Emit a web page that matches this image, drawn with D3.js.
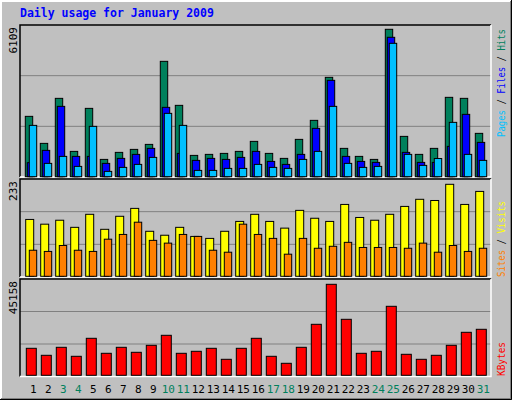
<!DOCTYPE html>
<html>
<head>
<meta charset="utf-8">
<script src="https://cdn.jsdelivr.net/npm/d3@7"></script>
<style>
  body { margin: 0; background: #fff; }
  text { font-family: "DejaVu Sans Mono", monospace; }
</style>
</head>
<body>
<div id="chart"></div>
<script>
var days = d3.range(1, 32);
var weekend = [3, 4, 10, 11, 17, 18, 24, 25, 31];

var hits = [2501, 1381, 3247, 1049, 2832, 717, 1008, 1132, 1339, 4781, 2957, 883, 925, 966, 1049, 1464,
            966, 759, 1547, 2335, 4118, 1174, 842, 717, 6109, 1671, 925, 1174, 3289, 3247, 1796];
var files = [581, 1091, 2915, 842, 842, 552, 759, 925, 1174, 2874, 966, 676, 759, 717, 800, 1049,
             634, 510, 925, 2003, 3994, 842, 634, 593, 5777, 1008, 593, 593, 1257, 2584, 1422];
var pages = [2127, 552, 842, 427, 2086, 220, 386, 510, 800, 2625, 2127, 261, 261, 344, 344, 510,
             386, 344, 717, 1049, 2915, 552, 386, 427, 5528, 925, 469, 754, 2252, 925, 676];
var visits = [144, 132, 142, 124, 157, 119, 152, 172, 114, 104, 124, 101, 96, 114, 139, 157,
              139, 122, 167, 147, 139, 182, 149, 142, 157, 177, 195, 192, 233, 182, 215];
var sites = [66, 63, 78, 66, 63, 94, 106, 137, 91, 84, 106, 101, 66, 61, 132, 106,
             96, 56, 96, 71, 76, 86, 73, 73, 73, 71, 84, 61, 78, 63, 71];
var kbytes = [13397, 9924, 13894, 9428, 18359, 10916, 13894, 11413, 14886, 19848, 10916, 11909, 13397, 7939, 13397, 18359,
              9428, 5954, 13894, 25306, 45158, 27787, 10916, 11909, 34238, 10420, 7939, 9924, 14886, 21337, 22825];

var width = 512, height = 400;
var left = 20, right = 491;

var svg = d3.select("#chart").append("svg")
  .attr("width", width).attr("height", height);

// outer frame
svg.append("rect").attr("x", 0).attr("y", 0).attr("width", width).attr("height", height).attr("fill", "#c0c0c0");
svg.append("path").attr("d", "M1,399V1H511").attr("stroke", "#fff").attr("stroke-width", 2).attr("fill", "none");
svg.append("path").attr("d", "M1,399H511V1").attr("stroke", "#808080").attr("stroke-width", 2).attr("fill", "none");
svg.append("path").attr("d", "M0,399.5H511.5V0").attr("stroke", "#000").attr("fill", "none");

svg.append("text").attr("x", 20).attr("y", 17)
  .attr("fill", "#0000ff").attr("font-weight", "bold").attr("font-size", 11.5)
  .text("Daily usage for January 2009");

var x = d3.scaleBand().domain(days).range([25.3, 25.3 + 31 * 15]);

var panels = [
  {top: 25, base: 177, max: 6109, y0: 176.7, y1: 29.3},
  {top: 179, base: 277, max: 233, y0: 276.3, y1: 184.3},
  {top: 279, base: 376.5, max: 45158, y0: 375.3, y1: 284.3}
];

panels.forEach(function (p) {
  p.y = d3.scaleLinear().domain([0, p.max]).range([p.y0, p.y1]);
  svg.append("rect").attr("x", left).attr("y", p.top).attr("width", right - left).attr("height", p.base - p.top)
    .attr("fill", "#c0c0c0");
  var h = p.base - p.top;
  [1, 2].forEach(function (k) {
    svg.append("line").attr("x1", left).attr("x2", right)
      .attr("y1", p.base - h * k / 3).attr("y2", p.base - h * k / 3)
      .attr("stroke", "#808080").attr("stroke-width", 1);
  });
  svg.append("path").attr("d", "M" + left + "," + p.base + "V" + p.top + "H" + right)
    .attr("stroke", "#000").attr("stroke-width", 1.5).attr("fill", "none");
  svg.append("path").attr("d", "M" + left + "," + p.base + "H" + right + "V" + p.top)
    .attr("stroke", "#fff").attr("stroke-width", 1.5).attr("fill", "none");
  svg.append("text").attr("transform", "translate(17," + (p.top + 2) + ") rotate(-90)")
    .attr("text-anchor", "end").attr("font-size", 11).attr("fill", "#000").text(p.max);
});

function bars(p, data, off, w, color) {
  svg.append("g").selectAll("rect").data(data).enter().append("rect")
    .attr("x", function (d, i) { return x(days[i]) + off; })
    .attr("y", function (d) { return p.y(d); })
    .attr("width", w)
    .attr("height", function (d) { return p.y0 - p.y(d); })
    .attr("fill", color).attr("stroke", "#000").attr("stroke-width", 1);
}

bars(panels[0], hits, 0, 7.4, "#00805c");
bars(panels[0], files, 2, 7.4, "#0000ff");
bars(panels[0], pages, 4, 7.4, "#00c0ff");
bars(panels[1], visits, 0.4, 8, "#ffff00");
bars(panels[1], sites, 4, 7.4, "#ff8000");
bars(panels[2], kbytes, 1, 10, "#ff0000");

// day labels
svg.append("g").selectAll("text").data(days).enter().append("text")
  .attr("x", function (d) { return x(d) + 8; })
  .attr("y", 393)
  .attr("text-anchor", "middle").attr("font-size", 11)
  .attr("fill", function (d) { return weekend.indexOf(d) >= 0 ? "#00805c" : "#000"; })
  .text(function (d) { return d; });

// right-side legends
function legend(yEnd, len, parts) {
  var t = svg.append("text").attr("transform", "translate(505," + yEnd + ") rotate(-90)")
    .attr("font-size", 10).attr("textLength", len).attr("lengthAdjust", "spacingAndGlyphs");
  parts.forEach(function (s) {
    t.append("tspan").attr("fill", s[1]).text(s[0]);
  });
}
legend(137, 108, [["Pages", "#00c0ff"], [" / ", "#000"], ["Files", "#0000ff"], [" / ", "#000"], ["Hits", "#00805c"]]);
legend(277, 76, [["Sites", "#ff8000"], [" / ", "#000"], ["Visits", "#ffff00"]]);
legend(376, 34, [["KBytes", "#ff0000"]]);
</script>
</body>
</html>
